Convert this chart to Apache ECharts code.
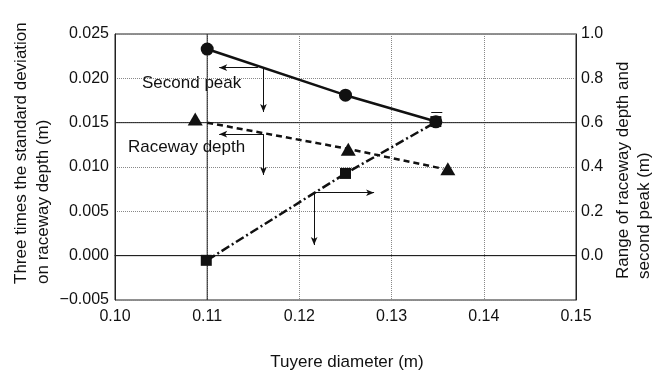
<!DOCTYPE html>
<html lang="en">
<head>
    <meta charset="UTF-8">
    <title>Tuyere diameter</title>
    <style>
        * { margin: 0; padding: 0; }
        #box { width: 666px; height: 372px; }
    </style>
</head>
<body>
    <div id="box"></div>
    <script src="https://cdn.jsdelivr.net/npm/echarts@6/dist/echarts.min.js"></script>
    <script>
        // points
        var circleX = [0.110, 0.125, 0.1348];
        var circleY = [0.0233, 0.0181, 0.0151];
        var triX = [0.1087, 0.1253, 0.1361];
        var triY = [0.0154, 0.0120, 0.0098];
        var squareX = [0.1099, 0.125, 0.1348];
        var squareY = [-0.021, 0.371, 0.605];   // right axis

        // lines drawn through the points
        var peakLineX = [0.1103, 0.125, 0.1349];
        var peakLineY = [0.0232, 0.0181, 0.0151];
        var depthLineX = [0.110, 0.125, 0.1356];
        var depthLineY = [0.0150, 0.0121, 0.0098];
        var rangeLineX = [0.1100, 0.125, 0.1349];
        var rangeLineY = [-0.020, 0.371, 0.605];   // right axis

        // darker reference lines
        var guideY = [0.015, 0.000];
        var guideX = [0.11];

        // arrows [x1, y1, x2, y2] on the left axis
        var arrows = [
            [0.1155, 0.0212, 0.1113, 0.0212],
            [0.1161, 0.0212, 0.1161, 0.0162],
            [0.1161, 0.0137, 0.1113, 0.0137],
            [0.1161, 0.0137, 0.1161, 0.0091],
            [0.1216, 0.0071, 0.1216, 0.0012],
            [0.1216, 0.0071, 0.1281, 0.0071]
        ];

        var font = 'Liberation Sans';
        var ink = '#111';
        var titleFont = '17px "Liberation Sans"';

        function pairs(xs, ys) {
            return xs.map(function (x, i) { return [x, ys[i]]; });
        }

        var arrowData = arrows.map(function (a) {
            return [{ coord: [a[0], a[1]] }, { coord: [a[2], a[3]] }];
        });
        // small bar over the last circle
        arrowData.push([{ coord: [0.1343, 0.0162], symbol: 'none' }, { coord: [0.1355, 0.0162], symbol: 'none' }]);

        var guideSeries = [];
        guideY.forEach(function (y) {
            guideSeries.push({
                type: 'line', data: [[0.10, y], [0.15, y]], showSymbol: false, silent: true,
                lineStyle: { color: '#222', width: 1 }, z: 1
            });
        });
        guideX.forEach(function (x) {
            guideSeries.push({
                type: 'line', data: [[x, -0.005], [x, 0.025]], showSymbol: false, silent: true,
                lineStyle: { color: '#222', width: 1 }, z: 1
            });
        });

        var chart = echarts.init(document.getElementById('box'));
        chart.setOption({
            animation: false,
            grid: { left: 115, right: 90, top: 34, bottom: 72, show: true, borderColor: '#222', borderWidth: 1 },
            xAxis: {
                type: 'value', min: 0.10, max: 0.15, interval: 0.01,
                axisLine: { lineStyle: { color: '#222' } },
                axisTick: { show: false },
                axisLabel: {
                    color: ink, fontFamily: font, fontSize: 16, margin: 9,
                    formatter: function (v) { return v.toFixed(2); }
                },
                splitLine: { lineStyle: { color: '#888', type: 'dotted' } }
            },
            yAxis: [{
                type: 'value', min: -0.005, max: 0.025, interval: 0.005,
                axisLine: { show: true, lineStyle: { color: '#222' } },
                axisTick: { show: false },
                axisLabel: {
                    color: ink, fontFamily: font, fontSize: 16, margin: 6,
                    formatter: function (v) {
                        return v < -0.001 ? '\u2212' + Math.abs(v).toFixed(3) : Math.abs(v).toFixed(3);
                    }
                },
                splitLine: { lineStyle: { color: '#888', type: 'dotted' } }
            }, {
                type: 'value', min: -0.2, max: 1.0, interval: 0.2,
                axisLine: { show: true, lineStyle: { color: '#222' } },
                axisTick: { show: false },
                axisLabel: {
                    color: ink, fontFamily: font, fontSize: 16, margin: 5,
                    formatter: function (v) { return v < -0.1 ? '' : Math.abs(v).toFixed(1); }
                },
                splitLine: { show: false }
            }],
            graphic: [
                { type: 'text', left: 142, top: 75, style: { text: 'Second peak', font: titleFont, fill: ink } },
                { type: 'text', left: 128, top: 139, style: { text: 'Raceway depth', font: titleFont, fill: ink } },
                { type: 'text', x: 21, y: 284, rotation: Math.PI / 2, style: { text: 'Three times the standard deviation', font: titleFont, fill: ink, align: 'left', verticalAlign: 'middle' } },
                { type: 'text', x: 43, y: 284, rotation: Math.PI / 2, style: { text: 'on raceway depth (m)', font: titleFont, fill: ink, align: 'left', verticalAlign: 'middle' } },
                { type: 'text', x: 623, y: 279, rotation: Math.PI / 2, style: { text: 'Range of raceway depth and', font: titleFont, fill: ink, align: 'left', verticalAlign: 'middle' } },
                { type: 'text', x: 644, y: 279, rotation: Math.PI / 2, style: { text: 'second peak (m)', font: titleFont, fill: ink, align: 'left', verticalAlign: 'middle' } },
                { type: 'text', x: 347, y: 362, style: { text: 'Tuyere diameter (m)', font: titleFont, fill: ink, align: 'center', verticalAlign: 'middle' } }
            ],
            series: guideSeries.concat([{
                name: 'Second peak line',
                type: 'line',
                data: pairs(peakLineX, peakLineY),
                showSymbol: false,
                lineStyle: { color: '#111', width: 2.5 },
                z: 3
            }, {
                name: 'Raceway depth line',
                type: 'line',
                data: pairs(depthLineX, depthLineY),
                showSymbol: false,
                lineStyle: { color: '#111', width: 2.5, type: [6, 4] },
                z: 3
            }, {
                name: 'Range line',
                type: 'line',
                yAxisIndex: 1,
                data: pairs(rangeLineX, rangeLineY),
                showSymbol: false,
                lineStyle: { color: '#111', width: 2.5, type: [9, 3, 2, 3] },
                z: 3
            }, {
                name: 'Range',
                type: 'scatter',
                yAxisIndex: 1,
                data: pairs(squareX, squareY),
                symbol: 'rect', symbolSize: 11,
                itemStyle: { color: '#111', opacity: 1 },
                z: 4
            }, {
                name: 'Raceway depth',
                type: 'scatter',
                data: pairs(triX, triY),
                symbol: 'triangle', symbolSize: [15, 13],
                itemStyle: { color: '#111', opacity: 1 },
                z: 5
            }, {
                name: 'Second peak',
                type: 'scatter',
                data: pairs(circleX, circleY),
                symbol: 'circle', symbolSize: 13,
                itemStyle: { color: '#111', opacity: 1 },
                z: 5,
                markLine: {
                    silent: true,
                    symbol: ['none', 'arrow'], symbolSize: [5, 8],
                    label: { show: false },
                    lineStyle: { color: '#111', type: 'solid', width: 1 },
                    data: arrowData
                }
            }])
        });
    </script>
</body>
</html>
